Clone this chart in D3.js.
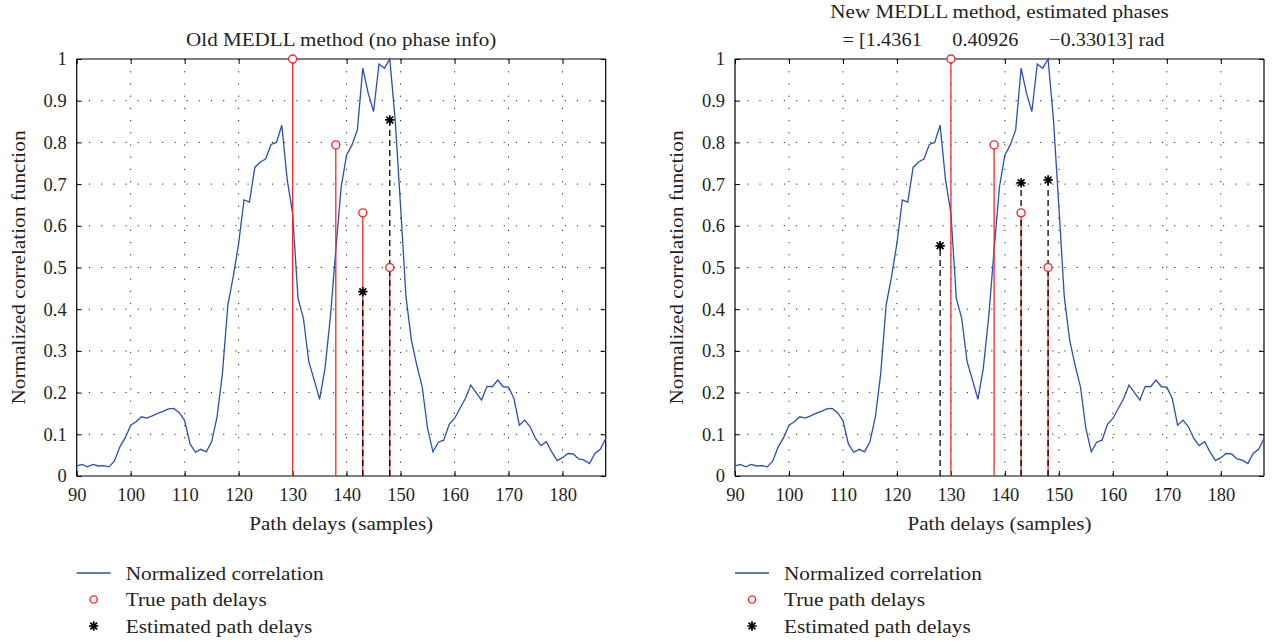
<!DOCTYPE html>
<html>
<head>
<meta charset="utf-8">
<script src="https://cdn.jsdelivr.net/npm/d3@7/dist/d3.min.js"></script>
<style>
  body { margin: 0; background: #fff; }
  text { font-family: "Liberation Serif", "Times New Roman", serif; fill: #231f20; }
</style>
</head>
<body>
<div id="chart"></div>
<script>
// Normalized correlation, one value per sample delay (90 ... 188)
var firstDelay = 90;
var correlation = [
  0.024, 0.028, 0.022, 0.028, 0.024, 0.025, 0.022, 0.036, 0.070, 0.092,
  0.122, 0.130, 0.142, 0.139, 0.144, 0.150, 0.155, 0.161, 0.162, 0.152,
  0.133, 0.077, 0.057, 0.064, 0.058, 0.082, 0.142, 0.246, 0.410, 0.478,
  0.558, 0.662, 0.657, 0.740, 0.753, 0.760, 0.795, 0.800, 0.841, 0.710,
  0.630, 0.426, 0.378, 0.274, 0.230, 0.184, 0.258, 0.382, 0.542, 0.694,
  0.770, 0.794, 0.830, 0.978, 0.918, 0.874, 0.988, 0.978, 1.000, 0.854,
  0.646, 0.430, 0.326, 0.266, 0.214, 0.114, 0.058, 0.081, 0.086, 0.124,
  0.138, 0.162, 0.186, 0.218, 0.200, 0.182, 0.215, 0.214, 0.230, 0.214,
  0.213, 0.186, 0.122, 0.134, 0.118, 0.090, 0.073, 0.082, 0.058, 0.037,
  0.044, 0.054, 0.053, 0.041, 0.038, 0.030, 0.054, 0.064, 0.090
];

// True path delays (same in both panels)
var trueDelays = [130, 138, 143, 148];
var trueAmps = [1.0, 0.794, 0.631, 0.5];

// Estimated path delays
var oldEstDelays = [143, 148];
var oldEstAmps = [0.442, 0.854];
var newEstDelays = [128, 143, 148];
var newEstAmps = [0.552, 0.703, 0.710];

var xTicks = [90, 100, 110, 120, 130, 140, 150, 160, 170, 180];
var yTicks = [0, 0.1, 0.2, 0.3, 0.4, 0.5, 0.6, 0.7, 0.8, 0.9, 1];

var legendLabels = ["Normalized correlation", "True path delays", "Estimated path delays"];

var svgWidth = 1277;
var svgHeight = 642;
var plotWidth = 529;
var plotHeight = 417;
var plotTop = 59;

var blue = "#2d4fae";
var red = "#ef2b2b";

var svg = d3.select("#chart")
  .append("svg")
  .attr("width", svgWidth)
  .attr("height", svgHeight);

var series = correlation.map(function(v, i) { return { d: firstDelay + i, v: v }; });

// the original font is wider than Liberation Serif, stretch the words a bit
function widen(sel, k) {
  sel.each(function() {
    var w = this.getComputedTextLength();
    d3.select(this).attr("textLength", w * k).attr("lengthAdjust", "spacingAndGlyphs");
  });
}

// asterisk marker: plus + cross
function star(g, cx, cy) {
  var s = 4.7, t = 3.4;
  g.append("path")
    .attr("d", "M" + (cx - s) + "," + cy + "h" + (2 * s) +
               "M" + cx + "," + (cy - s) + "v" + (2 * s) +
               "M" + (cx - t) + "," + (cy - t) + "l" + (2 * t) + "," + (2 * t) +
               "M" + (cx - t) + "," + (cy + t) + "l" + (2 * t) + "," + (-2 * t))
    .attr("stroke", "#000")
    .attr("stroke-width", 1.7)
    .attr("fill", "none");
}

function drawPanel(left, titleLines, estDelays, estAmps) {
  var g = svg.append("g").attr("transform", "translate(" + left + "," + plotTop + ")");

  var x = d3.scaleLinear().domain([90, 188]).range([0, plotWidth]);
  var y = d3.scaleLinear().domain([0, 1]).range([plotHeight, 0]);

  // dotted grid
  g.append("g").selectAll("line").data(xTicks.slice(1)).enter().append("line")
    .attr("x1", d => x(d)).attr("x2", d => x(d))
    .attr("y1", 0).attr("y2", plotHeight)
    .attr("stroke", "#222").attr("stroke-width", 1)
    .attr("stroke-dasharray", "1.2,11");
  g.append("g").selectAll("line").data(yTicks.slice(1, -1)).enter().append("line")
    .attr("x1", 0).attr("x2", plotWidth)
    .attr("y1", d => y(d)).attr("y2", d => y(d))
    .attr("stroke", "#222").attr("stroke-width", 1)
    .attr("stroke-dasharray", "1.2,11");

  // axes with inward ticks on all four sides
  var bottom = g.append("g").attr("transform", "translate(0," + plotHeight + ")")
    .call(d3.axisBottom(x).tickValues(xTicks).tickSize(-5).tickPadding(12).tickFormat(d3.format("d")));
  var top = g.append("g")
    .call(d3.axisTop(x).tickValues(xTicks).tickSize(-5).tickFormat(""));
  var leftAx = g.append("g")
    .call(d3.axisLeft(y).tickValues(yTicks).tickSize(-5).tickPadding(10).tickFormat(d => d === 0 || d === 1 ? d : d3.format(".1f")(d)));
  var rightAx = g.append("g").attr("transform", "translate(" + plotWidth + ",0)")
    .call(d3.axisRight(y).tickValues(yTicks).tickSize(-5).tickFormat(""));

  [bottom, top, leftAx, rightAx].forEach(function(a) {
    a.select(".domain").attr("stroke", "#000").attr("stroke-width", 1.2);
    a.selectAll(".tick line").attr("stroke", "#000");
    a.selectAll(".tick text").attr("font-size", 18.5).attr("fill", "#231f20")
      .style("font-family", '"Liberation Serif", serif');
  });
  bottom.select(".domain").attr("d", "M0,0H" + plotWidth);
  top.select(".domain").attr("d", "M0,0H" + plotWidth);
  leftAx.select(".domain").attr("d", "M0,0V" + plotHeight);
  rightAx.select(".domain").attr("d", "M0,0V" + plotHeight);

  // correlation curve
  g.append("path")
    .datum(series)
    .attr("fill", "none")
    .attr("stroke", blue)
    .attr("stroke-width", 1.3)
    .attr("d", d3.line().x(d => x(d.d)).y(d => y(d.v)));

  // true delays: red stems
  trueDelays.forEach(function(d, i) {
    g.append("line")
      .attr("x1", x(d)).attr("x2", x(d))
      .attr("y1", y(0)).attr("y2", y(trueAmps[i]))
      .attr("stroke", red).attr("stroke-width", 1.3);
  });

  // estimated delays: black dashed stems
  estDelays.forEach(function(d, i) {
    g.append("line")
      .attr("x1", x(d)).attr("x2", x(d))
      .attr("y1", y(0)).attr("y2", y(estAmps[i]))
      .attr("stroke", "#000").attr("stroke-width", 1.3)
      .attr("stroke-dasharray", "6,4");
  });

  trueDelays.forEach(function(d, i) {
    g.append("circle")
      .attr("cx", x(d)).attr("cy", y(trueAmps[i])).attr("r", 4)
      .attr("fill", "#fff").attr("stroke", red).attr("stroke-width", 1.4);
  });
  estDelays.forEach(function(d, i) { star(g, x(d), y(estAmps[i])); });

  // title
  var cx = plotWidth / 2;
  titleLines.forEach(function(t, i) {
    g.append("text")
      .attr("x", cx + (titleLines.length > 1 && i === 1 ? 4 : 0))
      .attr("y", -13 - (titleLines.length - 1 - i) * 28)
      .attr("text-anchor", "middle")
      .attr("font-size", 18.5)
      .attr("xml:space", "preserve")
      .text(t)
      .call(widen, i === 1 ? 1.1 : 1.14);
  });

  // axis labels
  g.append("text")
    .attr("x", cx).attr("y", plotHeight + 54)
    .attr("text-anchor", "middle").attr("font-size", 18.5)
    .text("Path delays (samples)")
    .call(widen, 1.14);
  g.append("text")
    .attr("transform", "translate(-52," + (plotHeight / 2) + ") rotate(-90)")
    .attr("text-anchor", "middle").attr("font-size", 18.5)
    .text("Normalized correlation function")
    .call(widen, 1.15);

  // legend
  var lg = g.append("g").attr("transform", "translate(0," + (plotHeight + 97) + ")");
  lg.append("line").attr("x1", 0).attr("x2", 34).attr("y1", 0).attr("y2", 0)
    .attr("stroke", blue).attr("stroke-width", 1.3);
  lg.append("circle").attr("cx", 17).attr("cy", 26.5).attr("r", 3.6)
    .attr("fill", "#fff").attr("stroke", red).attr("stroke-width", 1.4);
  star(lg, 17, 53);
  legendLabels.forEach(function(t, i) {
    lg.append("text")
      .attr("x", 49).attr("y", 6.5 + i * 26.5)
      .attr("font-size", 18.5)
      .text(t)
      .call(widen, 1.15);
  });
}

drawPanel(76.7, ["Old MEDLL method (no phase info)"], oldEstDelays, oldEstAmps);
drawPanel(735, ["New MEDLL method, estimated phases",
                "= [1.4361      0.40926      \u22120.33013] rad"], newEstDelays, newEstAmps);
</script>
</body>
</html>
